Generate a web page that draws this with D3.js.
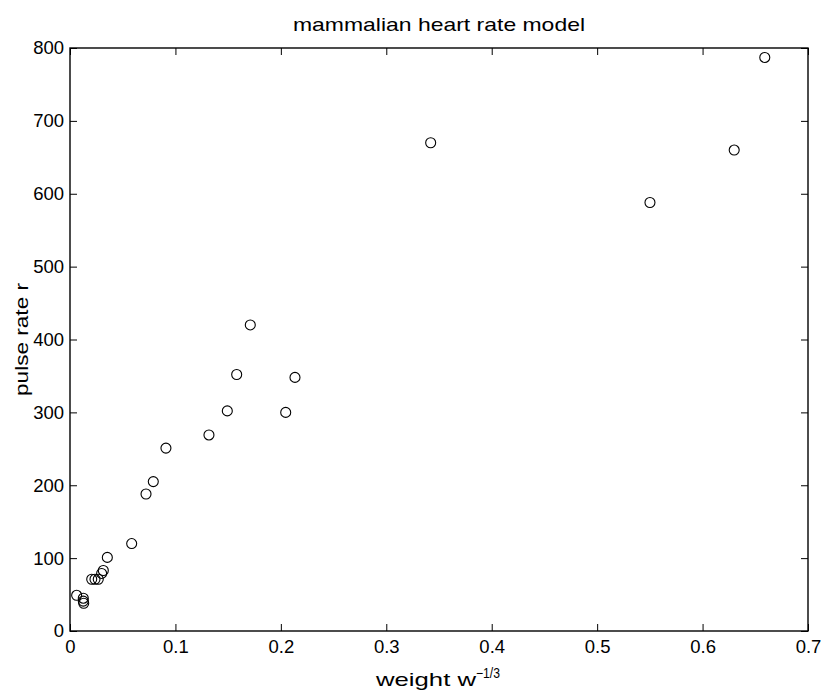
<!DOCTYPE html>
<html>
<head>
<meta charset="utf-8">
<script src="https://cdn.jsdelivr.net/npm/d3@7"></script>
<style>
  html, body { margin: 0; padding: 0; background: #fff; }
  svg { display: block; }
  text { font-family: "Liberation Sans", Arial, Helvetica, sans-serif; fill: #000; }
</style>
</head>
<body>
<svg id="chart" width="826" height="692"></svg>
<script>
// ---- data ----
const weightX = [0.0063, 0.0126, 0.0126, 0.013, 0.0206, 0.0237, 0.0268, 0.030, 0.0316, 0.0354,
                 0.0585, 0.0721, 0.079, 0.091, 0.1318, 0.1492, 0.1581, 0.171, 0.2046, 0.2134,
                 0.3421, 0.5501, 0.630, 0.659];
const pulseY  = [49, 45, 41, 38, 71, 71, 71, 79, 83, 101,
                 120, 188, 205, 251, 269, 302, 352, 420, 300, 348,
                 670, 588, 660, 787];
const xTicks = [0, 0.1, 0.2, 0.3, 0.4, 0.5, 0.6, 0.7];
const yTicks = [0, 100, 200, 300, 400, 500, 600, 700, 800];
const titleText = "mammalian heart rate model";
const yLabelText = "pulse rate r";

const svg = d3.select("#chart");
const W = 826, H = 692;
const m = { left: 70, right: 18, top: 48, bottom: 61 };
const x = d3.scaleLinear().domain([0, 0.7]).range([m.left, W - m.right]);
const y = d3.scaleLinear().domain([0, 800]).range([H - m.bottom, m.top]);

svg.append("rect").attr("width", W).attr("height", H).attr("fill", "#fff");

const tickLen = 7;
const fmtX = d => d === 0 ? "0" : d3.format(".1f")(d);

const gB = svg.append("g").attr("transform", `translate(0,${y(0)})`)
  .call(d3.axisBottom(x).tickValues(xTicks).tickFormat(fmtX).tickSizeInner(-tickLen).tickSizeOuter(0).tickPadding(9));
const gL = svg.append("g").attr("transform", `translate(${x(0)},0)`)
  .call(d3.axisLeft(y).tickValues(yTicks).tickFormat(d3.format("d")).tickSizeInner(-tickLen).tickSizeOuter(0).tickPadding(6));
const gT = svg.append("g").attr("transform", `translate(0,${y(800)})`)
  .call(d3.axisTop(x).tickValues(xTicks).tickFormat("").tickSizeInner(-tickLen).tickSizeOuter(0));
const gR = svg.append("g").attr("transform", `translate(${x(0.7)},0)`)
  .call(d3.axisRight(y).tickValues(yTicks).tickFormat("").tickSizeInner(-tickLen).tickSizeOuter(0));

[gB, gL, gT, gR].forEach(g => {
  g.select(".domain").remove();
  g.selectAll(".tick line").attr("stroke", "#000").attr("stroke-width", 1);
  g.selectAll("text").attr("font-size", 18.5).attr("font-family", "Liberation Sans, Arial, sans-serif").attr("fill", "#000");
});

// box
svg.append("rect")
  .attr("x", x(0)).attr("y", y(800))
  .attr("width", x(0.7) - x(0)).attr("height", y(0) - y(800))
  .attr("fill", "none").attr("stroke", "#000").attr("stroke-width", 1.4);

// points
svg.append("g").selectAll("circle")
  .data(weightX.map((d, i) => [d, pulseY[i]]))
  .join("circle")
  .attr("cx", d => x(d[0]))
  .attr("cy", d => y(d[1]))
  .attr("r", 5)
  .attr("fill", "none")
  .attr("stroke", "#000")
  .attr("stroke-width", 1.1);

// title
svg.append("text")
  .attr("x", (x(0) + x(0.7)) / 2).attr("y", 31)
  .attr("text-anchor", "middle").attr("font-size", 19)
  .attr("textLength", 292).attr("lengthAdjust", "spacingAndGlyphs")
  .text(titleText);

// x label with superscript
const xl = svg.append("text")
  .attr("x", 376).attr("y", 686)
  .attr("font-size", 19);
xl.append("tspan").attr("textLength", 100).attr("lengthAdjust", "spacingAndGlyphs").text("weight w");
xl.append("tspan").attr("dy", -8).attr("font-size", 14)
  .attr("textLength", 24).attr("lengthAdjust", "spacingAndGlyphs").text("\u22121/3");

// y label
svg.append("text")
  .attr("transform", `translate(28,${(y(0) + y(800)) / 2}) rotate(-90)`)
  .attr("text-anchor", "middle").attr("font-size", 19)
  .attr("textLength", 113).attr("lengthAdjust", "spacingAndGlyphs")
  .text(yLabelText);
</script>
</body>
</html>
